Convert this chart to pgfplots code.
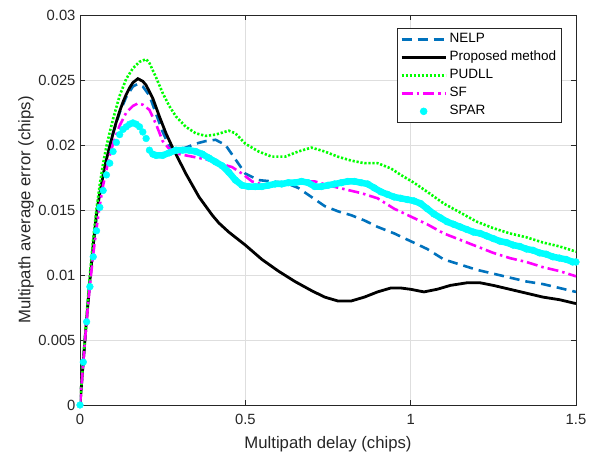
\documentclass[border=0pt]{standalone}
\usepackage{pgfplots}
\pgfplotsset{compat=1.18}
\usepackage{fontspec}
\setmainfont{Liberation Sans}
\definecolor{nelp}{rgb}{0,0.447,0.741}
\definecolor{axgray}{rgb}{0.15,0.15,0.15}
\definecolor{pgreen}{rgb}{0,1,0}
\definecolor{pmag}{rgb}{1,0,1}
\definecolor{pcyan}{rgb}{0,1,1}
\pgfplotsset{sparlegend/.style={legend image code/.code={\draw[mark repeat=2,mark phase=2,##1] plot coordinates {(0pt,0pt) (22pt,0pt) (44pt,0pt)};}}}
\begin{document}
\begin{tikzpicture}
\useasboundingbox (-80pt,-49pt) rectangle (512pt,405pt);
\begin{axis}[
  at={(0,0)}, anchor=south west, scale only axis,
  width=496pt, height=390pt,
  xmin=0, xmax=1.5, ymin=0, ymax=0.03,
  xtick={0,0.5,1,1.5}, xticklabels={0,0.5,1,1.5},
  ytick={0,0.005,0.01,0.015,0.02,0.025,0.03},
  yticklabels={0,0.005,0.01,0.015,0.02,0.025,0.03},
  scaled y ticks=false,
  /pgf/number format/assume math mode=true,
  grid=major, major grid style={color=black!13, line width=0.7pt},
  axis line style={axgray, line width=0.8pt},
  tick style={axgray, line width=0.8pt}, major tick length=5pt, tick align=inside,
  tick label style={font=\fontsize{14.8}{17}\selectfont, text=axgray},
  yticklabel style={xshift=-1pt},
  xticklabel style={yshift=-6pt},
  xlabel={Multipath delay (chips)},
  ylabel={Multipath average error (chips)},
  label style={font=\fontsize{16.7}{19}\selectfont, text=axgray},
  xlabel style={at={(axis description cs:0.5,-0.10)}, anchor=center},
  ylabel style={at={(axis description cs:-0.109,0.5)}, anchor=center},
  legend style={at={(1,1)}, anchor=north east, xshift=-14pt, yshift=-13pt,
    font=\fontsize{13.5}{16}\selectfont, draw=axgray, line width=0.7pt, fill=white,
    row sep=0pt, nodes={inner sep=2.5pt, text height=10pt, text depth=3pt}},
  legend cell align=left,
  legend image code/.code={\draw[#1] (0pt,0pt) -- (44pt,0pt);},
]
\addplot[nelp, line width=2.6pt, dash pattern=on 10pt off 6pt] coordinates {
(0,0) (0.01,0.0034) (0.02,0.0066) (0.03,0.0096) (0.04,0.0122) (0.05,0.0145)
(0.06,0.0162) (0.07,0.0177) (0.08,0.0190) (0.10,0.0209) (0.12,0.0225) (0.14,0.0237)
(0.16,0.0245) (0.175,0.0247) (0.19,0.0245) (0.21,0.0238) (0.23,0.0224) (0.25,0.0210)
(0.27,0.0199) (0.29,0.0196) (0.32,0.0198) (0.35,0.0201) (0.38,0.0203) (0.41,0.0204)
(0.44,0.0200) (0.47,0.0189) (0.50,0.0178) (0.54,0.0173) (0.58,0.0172) (0.62,0.0171)
(0.66,0.0167) (0.70,0.0160) (0.74,0.0153) (0.78,0.0149) (0.82,0.0146) (0.86,0.0142)
(0.90,0.0137) (0.95,0.0132) (1.00,0.0126) (1.05,0.0120) (1.10,0.0112) (1.15,0.0108)
(1.20,0.0104) (1.25,0.0101) (1.30,0.0098) (1.35,0.0095) (1.40,0.0093) (1.45,0.0090)
(1.50,0.0087)};
\addlegendentry{NELP}
\addplot[black, line width=2.8pt] coordinates {
(0,0) (0.01,0.0034) (0.02,0.0066) (0.03,0.0096) (0.04,0.0123) (0.05,0.0147)
(0.06,0.0163) (0.07,0.0177) (0.08,0.0189) (0.09,0.0199) (0.10,0.0209) (0.11,0.0218)
(0.12,0.0226) (0.13,0.0233) (0.14,0.0239) (0.15,0.0244) (0.16,0.0248) (0.175,0.0251)
(0.19,0.0249) (0.20,0.0246) (0.22,0.0236) (0.24,0.0222) (0.26,0.0209) (0.28,0.0198)
(0.30,0.0188) (0.32,0.0178) (0.34,0.0169) (0.36,0.0160) (0.38,0.0153) (0.40,0.0146)
(0.42,0.0140) (0.45,0.0133) (0.48,0.0127) (0.50,0.0123) (0.55,0.0112) (0.60,0.0103)
(0.65,0.0095) (0.70,0.0088) (0.74,0.0083) (0.78,0.0080) (0.82,0.0080) (0.86,0.0083)
(0.90,0.0087) (0.94,0.0090) (0.97,0.0090) (1.00,0.0089) (1.04,0.0087) (1.08,0.0089)
(1.12,0.0092) (1.17,0.0094) (1.21,0.0094) (1.25,0.0092) (1.30,0.0089) (1.35,0.0086)
(1.40,0.0083) (1.45,0.0081) (1.50,0.0078)};
\addlegendentry{Proposed method}
\addplot[pgreen, line width=2.6pt, dash pattern=on 2.2pt off 1.8pt] coordinates {
(0,0) (0.01,0.0035) (0.02,0.0069) (0.03,0.0100) (0.04,0.0128) (0.05,0.0151)
(0.06,0.0170) (0.07,0.0186) (0.08,0.0199) (0.09,0.0210) (0.10,0.0220) (0.12,0.0238)
(0.14,0.0251) (0.16,0.0259) (0.18,0.0264) (0.20,0.0266) (0.21,0.0263) (0.23,0.0252)
(0.25,0.0240) (0.27,0.0230) (0.29,0.0222) (0.32,0.0214) (0.35,0.0209) (0.38,0.0207)
(0.41,0.0208) (0.45,0.0211) (0.47,0.0209) (0.50,0.0201) (0.54,0.0195) (0.58,0.0191)
(0.62,0.0191) (0.66,0.0195) (0.70,0.0198) (0.74,0.0195) (0.78,0.0191) (0.82,0.0188)
(0.86,0.0186) (0.90,0.0186) (0.94,0.0182) (0.97,0.0177) (1.01,0.0171) (1.05,0.0164)
(1.10,0.0155) (1.15,0.0148) (1.20,0.0141) (1.25,0.0136) (1.30,0.0132) (1.35,0.0129)
(1.40,0.0125) (1.45,0.0122) (1.50,0.0118)};
\addlegendentry{PUDLL}
\addplot[pmag, line width=2.6pt, dash pattern=on 11pt off 4pt on 2.5pt off 4pt] coordinates {
(0,0) (0.01,0.0033) (0.02,0.0065) (0.03,0.0092) (0.04,0.0116) (0.05,0.0136)
(0.06,0.0154) (0.07,0.0169) (0.08,0.0181) (0.09,0.0192) (0.10,0.0201) (0.12,0.0215)
(0.14,0.0225) (0.16,0.0230) (0.175,0.0232) (0.19,0.0231) (0.21,0.0227) (0.23,0.0216)
(0.25,0.0203) (0.27,0.0197) (0.30,0.0193) (0.34,0.0191) (0.38,0.0189) (0.42,0.0186)
(0.46,0.0183) (0.49,0.0178) (0.52,0.0172) (0.56,0.0169) (0.60,0.0169) (0.64,0.0170)
(0.68,0.0172) (0.71,0.0172) (0.75,0.0169) (0.80,0.0166) (0.85,0.0163) (0.90,0.0159)
(0.95,0.0151) (1.00,0.0145) (1.05,0.0139) (1.10,0.0132) (1.15,0.0127) (1.20,0.0122)
(1.25,0.0117) (1.30,0.0113) (1.35,0.0110) (1.40,0.0106) (1.45,0.0103) (1.50,0.0099)};
\addlegendentry{SF}
\addplot[pcyan, line width=6.5pt, line cap=round, line join=round, forget plot] coordinates {
(0.22,0.0193) (0.23,0.0192) (0.25,0.0192) (0.27,0.0194) (0.29,0.0196) (0.31,0.0196)
(0.33,0.0196) (0.35,0.0195) (0.37,0.0193) (0.39,0.0190) (0.41,0.0187) (0.43,0.0184)
(0.45,0.0179) (0.47,0.0173) (0.49,0.0169) (0.51,0.0168) (0.53,0.0168) (0.55,0.0168)
(0.57,0.0169) (0.59,0.0170) (0.61,0.0170) (0.63,0.0171) (0.65,0.0171) (0.67,0.0172)
(0.69,0.0171) (0.71,0.0168) (0.73,0.0168) (0.75,0.0169) (0.77,0.0170) (0.79,0.0171)
(0.81,0.0172) (0.83,0.0172) (0.85,0.0171) (0.87,0.0170) (0.89,0.0167) (0.91,0.0164)
(0.93,0.0162) (0.95,0.0160) (0.97,0.0159) (0.99,0.0158) (1.01,0.0157) (1.03,0.0155)
(1.05,0.0151) (1.07,0.0147) (1.09,0.0144) (1.11,0.0141) (1.13,0.0139) (1.15,0.0137)
(1.17,0.0135) (1.19,0.0133) (1.21,0.0132) (1.23,0.0130) (1.25,0.0128) (1.27,0.0126)
(1.29,0.0125) (1.31,0.0123) (1.33,0.0122) (1.35,0.0120) (1.37,0.0119) (1.39,0.0117)
(1.41,0.0116) (1.43,0.0114) (1.45,0.0113) (1.47,0.0112) (1.49,0.0110) (1.50,0.0110)};
\addplot[only marks, mark=*, mark size=3.4pt, mark options={draw=pcyan, fill=pcyan}, sparlegend]
coordinates {
(0,0) (0.01,0.0033) (0.02,0.0064) (0.03,0.0091) (0.04,0.0114) (0.05,0.0134)
(0.06,0.0152) (0.07,0.0165) (0.08,0.0177) (0.09,0.0186) (0.10,0.0195) (0.11,0.0202)
(0.12,0.0208) (0.13,0.0212) (0.14,0.0214) (0.15,0.0216) (0.16,0.0217) (0.17,0.0216)
(0.18,0.0214) (0.19,0.0210) (0.20,0.0205) (0.21,0.0196) (0.22,0.0193) (0.23,0.0192)
(0.25,0.0192) (0.27,0.0194) (0.29,0.0196) (0.31,0.0196) (0.33,0.0196) (0.35,0.0195)
(0.37,0.0193) (0.39,0.0190) (0.41,0.0187) (0.43,0.0184) (0.45,0.0179) (0.47,0.0173)
(0.49,0.0169) (0.51,0.0168) (0.53,0.0168) (0.55,0.0168) (0.57,0.0169) (0.59,0.0170)
(0.61,0.0170) (0.63,0.0171) (0.65,0.0171) (0.67,0.0172) (0.69,0.0171) (0.71,0.0168)
(0.73,0.0168) (0.75,0.0169) (0.77,0.0170) (0.79,0.0171) (0.81,0.0172) (0.83,0.0172)
(0.85,0.0171) (0.87,0.0170) (0.89,0.0167) (0.91,0.0164) (0.93,0.0162) (0.95,0.0160)
(0.97,0.0159) (0.99,0.0158) (1.01,0.0157) (1.03,0.0155) (1.05,0.0151) (1.07,0.0147)
(1.09,0.0144) (1.11,0.0141) (1.13,0.0139) (1.15,0.0137) (1.17,0.0135) (1.19,0.0133)
(1.21,0.0132) (1.23,0.0130) (1.25,0.0128) (1.27,0.0126) (1.29,0.0125) (1.31,0.0123)
(1.33,0.0122) (1.35,0.0120) (1.37,0.0119) (1.39,0.0117) (1.41,0.0116) (1.43,0.0114)
(1.45,0.0113) (1.47,0.0112) (1.49,0.0110) (1.50,0.0110)};
\addlegendentry{SPAR}
\end{axis}
\end{tikzpicture}
\end{document}
